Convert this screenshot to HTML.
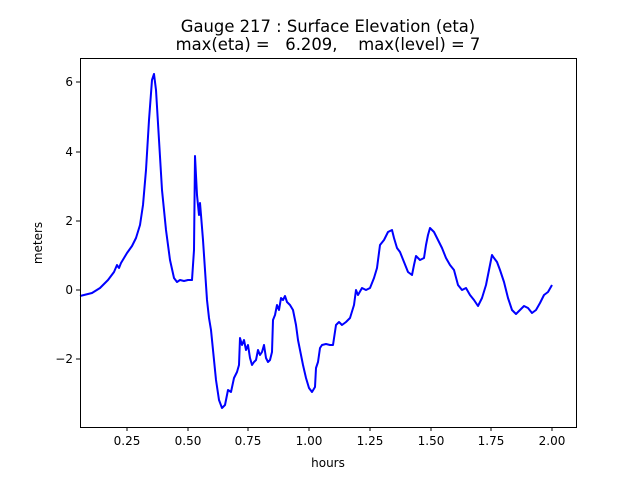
<!DOCTYPE html>
<html><head><meta charset="utf-8"><style>body{margin:0;background:#fff}svg{display:block}text{font-family:"DejaVu Sans","Liberation Sans",sans-serif;fill:#000}</style></head><body>
<svg width="640" height="480" viewBox="0 0 640 480">
<rect width="640" height="480" fill="#fff"/>
<text x="328" y="32" font-size="16.4" text-anchor="middle">Gauge 217 : Surface Elevation (eta)</text>
<text x="328" y="50" font-size="16.4" text-anchor="middle" xml:space="preserve">max(eta) =   6.209,    max(level) = 7</text>
<polyline fill="none" stroke="#0000ff" stroke-width="2" stroke-linejoin="round" points="80,296 92,293 100,288 108,280 114,272 117,265 119,268 121,263 124,258 127,253 132,246 136,238 140,225 143,205 146,170 149,120 152,80 154,74 156,90 159,140 162,190 166,230 170,260 174,278 177,282 180,280 184,281 188,280 192,280 194,250 195,156 197,195 199,215 200,203 201,215 203,240 205,270 207,300 209,318 211,330 213,350 216,380 219,400 222,408 225,405 228,390 231,392 234,378 237,372 239,365 240,338 242,345 244,340 246,350 248,345 250,358 252,365 254,362 256,360 258,350 260,355 262,352 264,345 266,358 268,362 270,360 272,352 273,320 275,315 277,305 279,310 281,298 283,300 285,296 287,302 290,305 293,310 296,325 298,340 300,350 303,365 306,378 309,388 312,392 315,387 316,368 318,362 320,348 322,345 326,344 330,345 333,345 336,325 339,322 342,325 346,322 350,318 354,305 356,290 358,295 362,288 366,290 370,288 374,278 377,268 380,245 384,240 388,232 392,230 394,238 397,248 400,252 404,262 408,272 412,275 414,265 416,256 420,260 424,258 426,245 428,235 430,228 434,232 438,240 442,248 446,258 450,265 454,270 458,285 462,290 466,288 470,295 474,300 478,306 482,298 486,285 490,265 492,255 494,258 497,262 500,270 504,282 508,298 512,310 516,314 520,310 524,306 528,308 532,313 536,310 540,303 544,295 548,292 552,285"/>
<rect x="80.5" y="58.5" width="496" height="369" fill="none" stroke="#000" stroke-width="1"/>
<g stroke="#000" stroke-width="1">
<line x1="127" y1="427" x2="127" y2="431"/><line x1="188" y1="427" x2="188" y2="431"/><line x1="248" y1="427" x2="248" y2="431"/><line x1="309" y1="427" x2="309" y2="431"/><line x1="370" y1="427" x2="370" y2="431"/><line x1="431" y1="427" x2="431" y2="431"/><line x1="491" y1="427" x2="491" y2="431"/><line x1="552" y1="427" x2="552" y2="431"/>
<line x1="76" y1="82" x2="80" y2="82"/><line x1="76" y1="152" x2="80" y2="152"/><line x1="76" y1="221" x2="80" y2="221"/><line x1="76" y1="290" x2="80" y2="290"/><line x1="76" y1="359" x2="80" y2="359"/>
</g>
<g font-size="12" text-anchor="middle">
<text x="127" y="445">0.25</text><text x="188" y="445">0.50</text><text x="248" y="445">0.75</text><text x="309" y="445">1.00</text><text x="370" y="445">1.25</text><text x="431" y="445">1.50</text><text x="491" y="445">1.75</text><text x="552" y="445">2.00</text>
<text x="328" y="467">hours</text>
</g>
<g font-size="12" text-anchor="end">
<text x="73" y="86">6</text><text x="73" y="156">4</text><text x="73" y="225">2</text><text x="73" y="294">0</text><text x="73" y="363">−2</text>
</g>
<text transform="translate(42,243) rotate(-90)" font-size="12" text-anchor="middle">meters</text>
</svg>
</body></html>
